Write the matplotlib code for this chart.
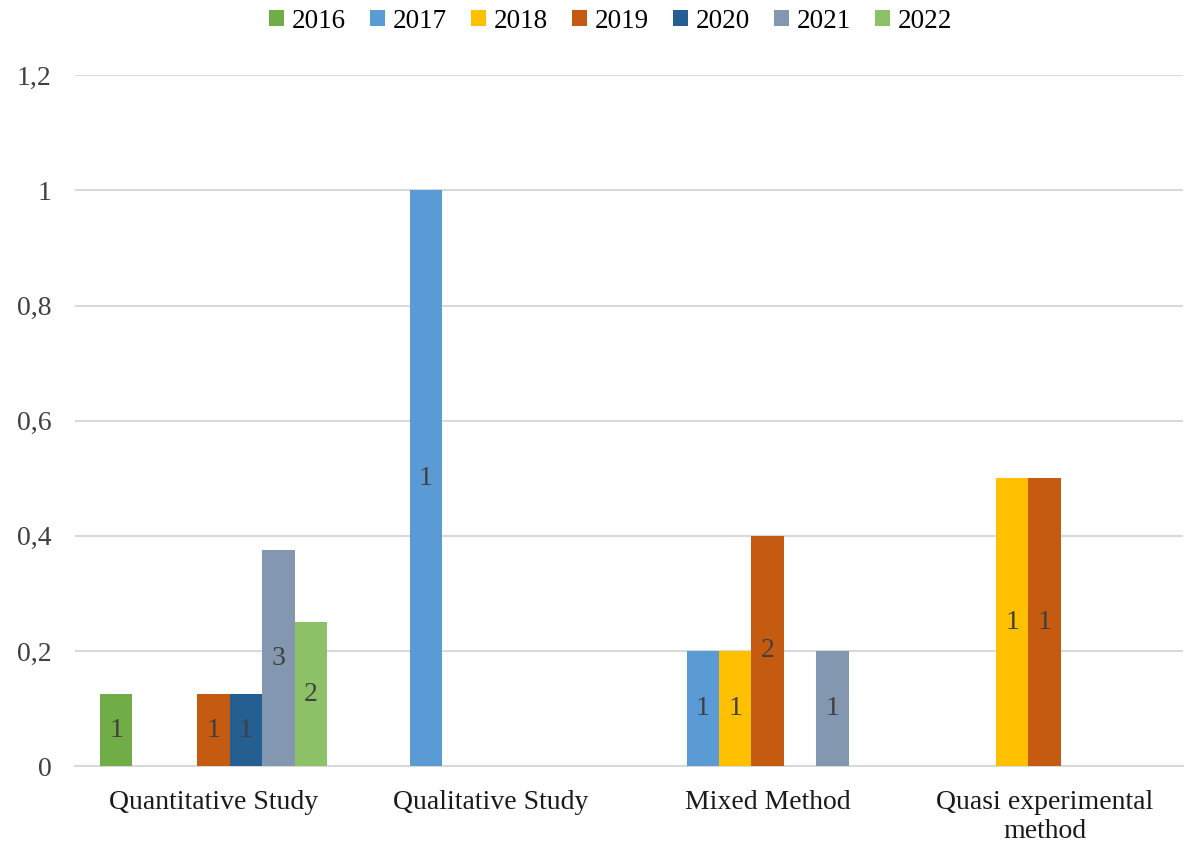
import numpy as np
import matplotlib.pyplot as plt
from matplotlib.ticker import FuncFormatter

categories = ['Quantitative Study', 'Qualitative Study', 'Mixed Method', 'Quasi experimental\nmethod']
years = ['2016', '2017', '2018', '2019', '2020', '2021', '2022']
colors = ['#70AD47', '#5B9BD5', '#FFC000', '#C55A11', '#255E91', '#8497B0', '#8CC168']

# share of studies per category, one list per year
share_2016 = [0.125, 0, 0, 0]
share_2017 = [0, 1.0, 0.2, 0]
share_2018 = [0, 0, 0.2, 0.5]
share_2019 = [0.125, 0, 0.4, 0.5]
share_2020 = [0.125, 0, 0, 0]
share_2021 = [0.375, 0, 0.2, 0]
share_2022 = [0.25, 0, 0, 0]

# counts shown as labels on the bars
count_2016 = [1, 0, 0, 0]
count_2017 = [0, 1, 1, 0]
count_2018 = [0, 0, 1, 1]
count_2019 = [1, 0, 2, 1]
count_2020 = [1, 0, 0, 0]
count_2021 = [3, 0, 1, 0]
count_2022 = [2, 0, 0, 0]

shares = [share_2016, share_2017, share_2018, share_2019, share_2020, share_2021, share_2022]
counts = [count_2016, count_2017, count_2018, count_2019, count_2020, count_2021, count_2022]

plt.rcParams['font.family'] = ['Liberation Serif', 'DejaVu Serif']

fig = plt.figure(figsize=(12, 8.56), dpi=100)
ax = fig.add_axes([0.0625, 0.105, 0.9235, 0.807])

x = np.arange(len(categories))
width = 0.117
for i, (year, vals, cnts, col) in enumerate(zip(years, shares, counts, colors)):
    pos = x + (i - 3) * width
    bars = ax.bar(pos, vals, width, color=col, label=year, zorder=3)
    for b, v, c in zip(bars, vals, cnts):
        if v > 0:
            ax.text(b.get_x() + b.get_width() / 2, v / 2, str(c), ha='center', va='center',
                    fontsize=20, color='#404040', zorder=4)

ax.set_xlim(-0.5, len(categories) - 0.5)
ax.set_ylim(0, 1.2)
ax.set_yticks(np.arange(0, 1.21, 0.2))
ax.yaxis.set_major_formatter(FuncFormatter(lambda v, p: ('%g' % round(v, 1)).replace('.', ',')))
ax.set_xticks(x)
ax.set_xticklabels(categories)
ax.tick_params(axis='y', length=0, pad=17, labelsize=20, labelcolor='#404040')
ax.tick_params(axis='x', length=0, pad=17, labelsize=20, labelcolor='#1a1a1a')
ax.grid(axis='y', color='#D9D9D9', linewidth=1.5, zorder=0)
for s in ['top', 'right', 'left']:
    ax.spines[s].set_visible(False)
ax.spines['bottom'].set_color('#D9D9D9')
ax.spines['bottom'].set_linewidth(1.5)

fig.legend(loc='upper center', bbox_to_anchor=(0.509, 1.018), ncol=7, frameon=False,
           fontsize=19.5, handlelength=0.53, handleheight=0.53, handletextpad=0.3,
           columnspacing=0.9)

fig.savefig('out.png', dpi=100)
